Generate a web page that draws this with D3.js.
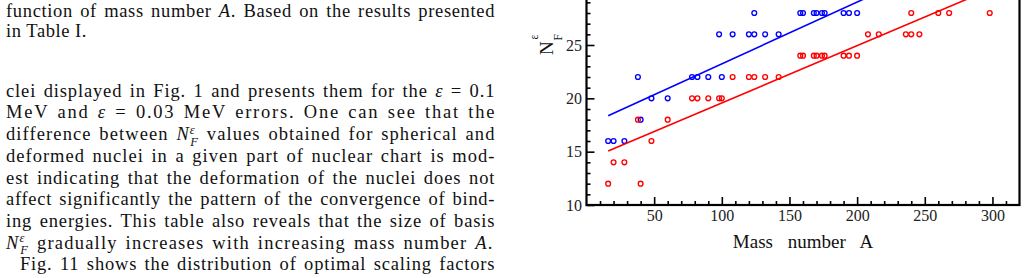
<!DOCTYPE html>
<html>
<head>
<meta charset="utf-8">
<script src="https://cdn.jsdelivr.net/npm/d3@7"></script>
<style>
  body { margin: 0; background: #fff; }
  svg { display: block; }
</style>
</head>
<body>
<div id="page"></div>
<script>
// ---------------------------------------------------------------------------
// Chart data
// ---------------------------------------------------------------------------

// Blue series: basis size N_F for the smaller error (eps = 0.03 MeV)
const blueSeries = [
  [16, 16], [20, 16], [28, 16],
  [40, 18],
  [48, 20], [60, 20],
  [38, 22], [78, 22], [82, 22], [90, 22], [100, 22],
  [98, 26], [108, 26], [120, 26], [124, 26], [132, 26], [142, 26],
  [124, 28], [158, 28], [160, 28], [168, 28], [170, 28], [174, 28],
  [176, 28], [190, 28], [194, 28], [200, 28],
];

// Red series: basis size N_F for the larger error (eps = 0.1 MeV)
const redSeries = [
  [16, 12], [40, 12],
  [20, 14], [28, 14],
  [48, 16],
  [38, 18], [60, 18],
  [78, 20], [82, 20], [90, 20], [98, 20], [100, 20],
  [108, 22], [120, 22], [124, 22], [132, 22], [142, 22],
  [158, 24], [160, 24], [168, 24], [170, 24], [174, 24], [176, 24],
  [190, 24], [194, 24], [200, 24],
  [208, 26], [216, 26], [236, 26], [240, 26], [246, 26],
  [240, 28], [260, 28], [268, 28], [298, 28],
];

// Linear fits, as end points
const blueFit = [[16, 18.37], [298, 34.7]];
const redFit = [[16, 15.06], [298, 30.2]];

const xMajorTicks = [50, 100, 150, 200, 250, 300];
const yMajorTicks = [10, 15, 20, 25, 30, 35, 40];

// ---------------------------------------------------------------------------
// Page text (left column)
// ---------------------------------------------------------------------------
const paragraphLines = [
  { text: "function of mass number *A*. Based on the results presented", x: 6, y: 16.7, end: 495 },
  { text: "in Table I.", x: 6, y: 36.8 },
  { text: "clei displayed in Fig. 1 and presents them for the *ε* = 0.1", x: 6, y: 96.7, end: 495 },
  { text: "MeV and *ε* = 0.03 MeV errors. One can see that the", x: 6, y: 118.4, end: 495 },
  { text: "difference between {N} values obtained for spherical and", x: 6, y: 140.1, end: 495 },
  { text: "deformed nuclei in a given part of nuclear chart is mod-", x: 6, y: 161.8, end: 495 },
  { text: "est indicating that the deformation of the nuclei does not", x: 6, y: 183.5, end: 495 },
  { text: "affect significantly the pattern of the convergence of bind-", x: 6, y: 205.2, end: 495 },
  { text: "ing energies. This table also reveals that the size of basis", x: 6, y: 226.9, end: 495 },
  { text: "{N} gradually increases with increasing mass number *A*.", x: 6, y: 248.6, end: 493 },
  { text: "Fig. 11 shows the distribution of optimal scaling factors", x: 20, y: 270.3, end: 495 },
];

const width = 1027;
const height = 278;
const serif = "'Liberation Serif', 'Times New Roman', serif";

const svg = d3
  .select("#page")
  .append("svg")
  .attr("width", width)
  .attr("height", height)
  .style("background", "#fff");

///////////////////////////////////////////////////////////////////////////////
// Left text column ///////////////////////////////////////////////////////////
///////////////////////////////////////////////////////////////////////////////

const textGroup = svg
  .append("g")
  .attr("fill", "#111")
  .style("font-family", serif)
  .style("font-size", "18.5px");

const BASE_LETTER_SPACING = 0.55;
const MAX_EXTRA_WORD_SPACE = 2;

function buildLine(line) {
  const t = textGroup
    .append("text")
    .attr("x", line.x)
    .attr("y", line.y)
    .style("letter-spacing", BASE_LETTER_SPACING + "px");

  const tokens = line.text.split(/(\*[^*]+\*|\{N\})/).filter(s => s.length);
  let pendingDy = 0;

  const add = (str, italic) => {
    const ts = t.append("tspan").text(str);
    if (italic) ts.style("font-style", "italic");
    if (pendingDy) {
      ts.attr("dy", pendingDy);
      pendingDy = 0;
    }
    return ts;
  };

  tokens.forEach(tok => {
    if (tok === "{N}") {
      // N with subscript F and superscript epsilon stacked
      add("N", true);
      const sup = t
        .append("tspan")
        .style("font-style", "italic")
        .style("font-size", "12.5px")
        .attr("dy", -6.5)
        .text("ε");
      const w = sup.node().getComputedTextLength();
      t.append("tspan")
        .style("font-style", "italic")
        .style("font-size", "12.5px")
        .attr("dx", -w)
        .attr("dy", 12)
        .text("F");
      pendingDy = -5.5;
    } else if (tok.startsWith("*")) {
      add(tok.slice(1, -1), true);
    } else {
      add(tok, false);
    }
  });

  // Justify: stretch the spaces a little, put the rest into letter spacing
  if (line.end) {
    const node = t.node();
    const n = node.getNumberOfChars();
    const endX = node.getEndPositionOfChar(n - 1).x;
    const spaces = node.textContent.split(" ").length - 1;
    const extra = line.end - endX;
    const ws = Math.max(-1, Math.min(extra / spaces, MAX_EXTRA_WORD_SPACE));
    const ls = BASE_LETTER_SPACING + (extra - ws * spaces) / (n - 1);
    t.style("word-spacing", ws + "px").style("letter-spacing", ls + "px");
  }
}

paragraphLines.forEach(buildLine);

///////////////////////////////////////////////////////////////////////////////
// Chart //////////////////////////////////////////////////////////////////////
///////////////////////////////////////////////////////////////////////////////

const plot = { left: 586.5, right: 1019.5, bottom: 205, top: -115 };

const x = d3.scaleLinear().domain([0, 320]).range([plot.left, plot.right]);
const y = d3.scaleLinear().domain([10, 40]).range([plot.bottom, plot.top]);

const chart = svg.append("g");

svg
  .append("defs")
  .append("clipPath")
  .attr("id", "plotClip")
  .append("rect")
  .attr("x", plot.left)
  .attr("y", plot.top)
  .attr("width", plot.right - plot.left)
  .attr("height", plot.bottom - plot.top);

// Minor ticks
const xMinor = d3.axisBottom(x)
  .tickValues(d3.range(10, 320, 10).filter(v => v % 50 !== 0))
  .tickSizeInner(-4)
  .tickSizeOuter(0)
  .tickFormat("");
const yMinor = d3.axisLeft(y)
  .tickValues(d3.range(11, 40, 1).filter(v => v % 5 !== 0))
  .tickSizeInner(-4)
  .tickSizeOuter(0)
  .tickFormat("");

// Major ticks with labels
const xMajor = d3.axisBottom(x)
  .tickValues(xMajorTicks)
  .tickSizeInner(-8)
  .tickSizeOuter(0)
  .tickPadding(4.8)
  .tickFormat(d3.format("d"));
const yMajor = d3.axisLeft(y)
  .tickValues(yMajorTicks)
  .tickSizeInner(-8)
  .tickSizeOuter(0)
  .tickPadding(4.5)
  .tickFormat(d3.format("d"));

function styleAxis(g) {
  g.select(".domain").remove();
  g.selectAll(".tick line").attr("stroke", "#000").attr("stroke-width", 1.6);
  g.selectAll(".tick text")
    .attr("fill", "#222")
    .style("font-family", serif)
    .style("font-size", "16px");
}

chart.append("g").attr("transform", `translate(0,${plot.bottom})`).call(xMinor).call(styleAxis);
chart.append("g").attr("transform", `translate(0,${plot.bottom})`).call(xMajor).call(styleAxis);
chart.append("g").attr("transform", `translate(${plot.left},0)`).call(yMinor).call(styleAxis);
chart.append("g").attr("transform", `translate(${plot.left},0)`).call(yMajor).call(styleAxis);

// Frame
chart
  .append("rect")
  .attr("x", plot.left)
  .attr("y", plot.top)
  .attr("width", plot.right - plot.left)
  .attr("height", plot.bottom - plot.top)
  .attr("fill", "none")
  .attr("stroke", "#000")
  .attr("stroke-width", 2.2);

const marks = chart.append("g").attr("clip-path", "url(#plotClip)");

const line = d3.line().x(d => x(d[0])).y(d => y(d[1]));

[
  { fit: blueFit, pts: blueSeries, color: "#0000ff" },
  { fit: redFit, pts: redSeries, color: "#ff0000" },
].forEach(s => {
  marks
    .append("path")
    .datum(s.fit)
    .attr("d", line)
    .attr("fill", "none")
    .attr("stroke", s.color)
    .attr("stroke-width", 1.6);

  marks
    .append("g")
    .selectAll("circle")
    .data(s.pts)
    .enter()
    .append("circle")
    .attr("cx", d => x(d[0]))
    .attr("cy", d => y(d[1]))
    .attr("r", 2.4)
    .attr("fill", "none")
    .attr("stroke", s.color)
    .attr("stroke-width", 1.35);
});

// Axis titles
chart
  .append("text")
  .attr("x", (plot.left + plot.right) / 2)
  .attr("y", 248.3)
  .attr("text-anchor", "middle")
  .attr("fill", "#111")
  .style("font-family", serif)
  .style("font-size", "19px")
  .style("word-spacing", "10px")
  .text("Mass number A");

const yTitle = chart
  .append("g")
  .attr("transform", "translate(553,55) rotate(-90)")
  .attr("fill", "#111")
  .style("font-family", serif);
yTitle.append("text").style("font-size", "19px").text("N");
yTitle.append("text").attr("x", 15.5).attr("y", -15).style("font-size", "11.5px").text("ε");
yTitle.append("text").attr("x", 14.5).attr("y", 9).style("font-size", "11.5px").text("F");
</script>
</body>
</html>
